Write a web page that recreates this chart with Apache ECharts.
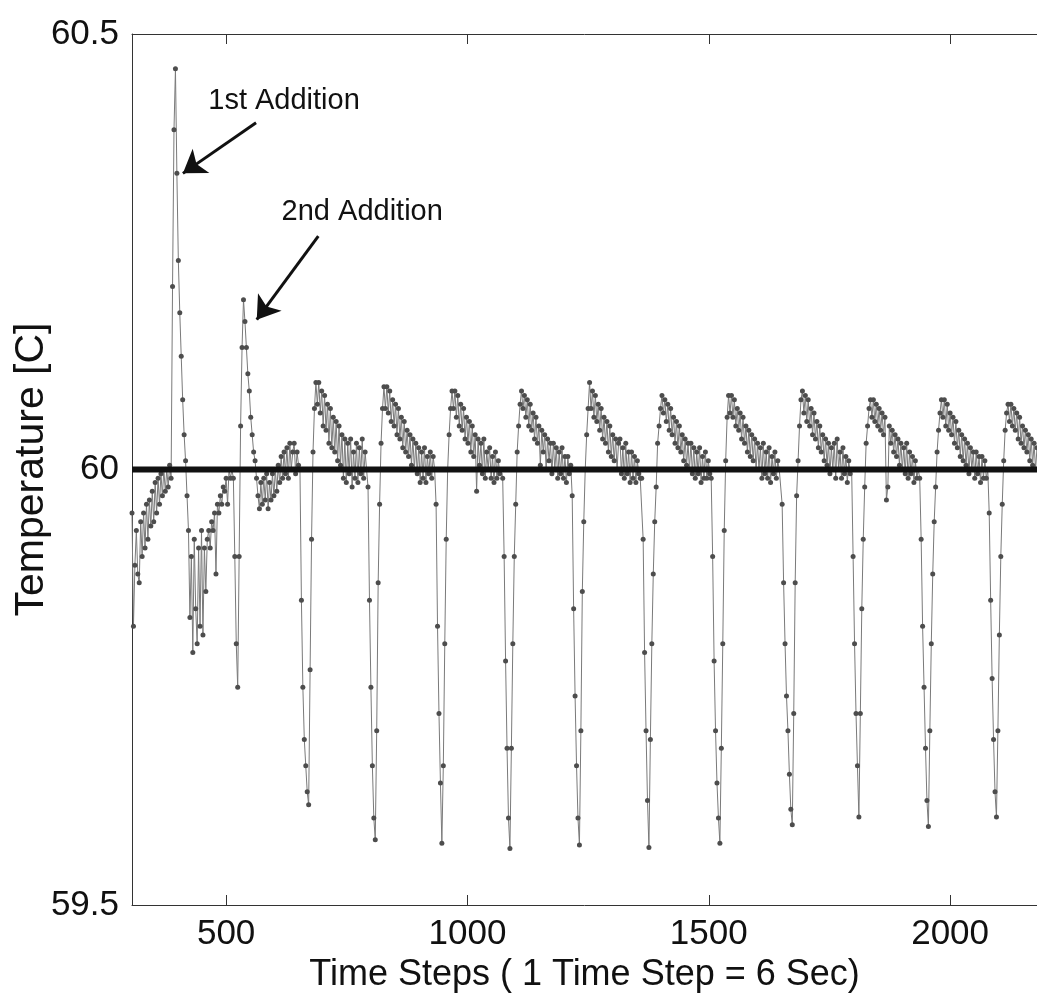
<!DOCTYPE html>
<html>
<head>
<meta charset="utf-8">
<script src="https://cdn.jsdelivr.net/npm/echarts@6/dist/echarts.min.js"></script>
<style>
html,body{margin:0;padding:0;background:#fff;}
#chart{width:1037px;height:1005px;}
</style>
</head>
<body>
<div id="chart"></div>
<script>
// ---- data ----
const STEP = 3; // digitised every 3 time steps
const xTicks = [500, 1000, 1500, 2000];
const yTicks = [59.5, 60, 60.5];
const setpoint = 60;
const segStarts = [305, 653, 794, 935, 1073, 1217, 1361, 1505, 1649, 1796, 1937, 2081];

const seg0 = [
 59.95, 59.82, 59.89, 59.93, 59.88, 59.87, 59.94, 59.90, 59.95, 59.91,
 59.96, 59.92, 59.965, 59.935, 59.975, 59.94, 59.985, 59.95, 59.99, 59.96,
 59.995, 59.97, 60.0, 59.975, 60.0, 59.98, 60.005, 59.99, 60.21, 60.39,
 60.46, 60.34, 60.24, 60.18, 60.13, 60.08, 60.04, 60.01, 59.97, 59.93,
 59.83, 59.90, 59.79, 59.92, 59.84, 59.80, 59.91, 59.82, 59.93, 59.81,
 59.91, 59.86, 59.92, 59.93, 59.91, 59.94, 59.93, 59.95, 59.88, 59.96,
 59.95, 59.97, 59.96, 59.98, 59.975, 59.99, 59.96, 60.0, 59.99, 60.0,
 59.99, 59.90, 59.80, 59.75, 59.90, 60.05, 60.14, 60.195, 60.17, 60.14,
 60.11, 60.09, 60.06, 60.04, 60.02, 60.01, 59.99, 59.97, 59.955, 59.985,
 59.96, 59.99, 59.965, 59.995, 59.955, 59.985, 59.965, 59.995, 59.97, 60.0,
 59.975, 60.005, 59.985, 60.015, 59.99, 60.02, 59.995, 60.025, 59.99, 60.03,
 60.0, 60.02, 60.03, 59.995, 60.02, 60.005
];
const cycle1 = [
 60.0, 59.85, 59.75, 59.69, 59.66, 59.63, 59.615, 59.77, 59.92, 60.02,
 60.07, 60.10,
 60.075, 60.10, 60.065, 60.09, 60.05, 60.085, 60.045, 60.075, 60.03, 60.07,
 60.025, 60.06, 60.02, 60.055, 60.01, 60.05, 60.005, 60.04, 59.99, 60.035,
 59.985, 60.03, 59.995, 60.035, 59.98, 60.02, 59.99, 60.03, 59.985, 60.025,
 59.995, 60.035, 59.99, 60.02, 60.0
];
const cycle2 = [
 59.98, 59.85, 59.75, 59.66, 59.60, 59.575, 59.70, 59.87, 59.96, 60.03,
 60.07, 60.095,
 60.07, 60.095, 60.065, 60.09, 60.055, 60.08, 60.05, 60.075, 60.04, 60.07,
 60.035, 60.06, 60.025, 60.055, 60.02, 60.045, 60.015, 60.04, 60.005, 60.035,
 60.0, 60.03, 59.995, 60.025, 59.985, 60.02, 59.99, 60.025, 59.985, 60.015,
 59.995, 60.02, 59.99, 60.015, 60.0
];
const cycle3 = [
 59.96, 59.82, 59.72, 59.64, 59.571, 59.66, 59.80, 59.92, 60.0, 60.04,
 60.07, 60.09,
 60.07, 60.09, 60.06, 60.085, 60.05, 60.075, 60.045, 60.07, 60.035, 60.06,
 60.03, 60.055, 60.02, 60.05, 60.015, 60.04, 59.975, 60.035, 60.005, 60.03,
 59.995, 60.035, 59.99, 60.02, 60.0, 60.025, 59.99, 60.015, 59.985, 60.02,
 59.99, 60.01, 59.995, 60.0
];
const cycle4 = [
 59.99, 59.90, 59.78, 59.68, 59.60, 59.565, 59.68, 59.80, 59.90, 59.96,
 60.02, 60.05, 60.075, 60.09,
 60.07, 60.085, 60.06, 60.08, 60.05, 60.075, 60.045, 60.065, 60.035, 60.06,
 60.03, 60.05, 60.005, 60.045, 60.02, 60.04, 60.0, 60.035, 60.01, 60.03,
 59.995, 60.03, 60.0, 60.025, 59.99, 60.02, 59.995, 60.025, 59.99, 60.015,
 59.985, 60.015, 59.995, 60.005
];
const cycle5 = [
 59.97, 59.84, 59.74, 59.66, 59.60, 59.569, 59.70, 59.86, 59.94, 60.0,
 60.04, 60.07, 60.10,
 60.07, 60.09, 60.06, 60.085, 60.055, 60.075, 60.045, 60.07, 60.035, 60.06,
 60.03, 60.055, 60.02, 60.05, 60.015, 60.04, 60.01, 60.035, 60.0, 60.03,
 60.035, 59.995, 60.025, 59.99, 60.03, 59.995, 60.02, 59.985, 60.02, 59.99,
 60.015, 59.985, 60.01, 59.995, 59.99
];
const cycle6 = [
 59.99, 59.92, 59.79, 59.70, 59.62, 59.566, 59.69, 59.80, 59.88, 59.94,
 59.98, 60.03, 60.05, 60.07, 60.085,
 60.065, 60.08, 60.055, 60.075, 60.045, 60.07, 60.04, 60.06, 60.03, 60.055,
 60.025, 60.05, 60.02, 60.04, 60.01, 60.035, 60.005, 60.03, 60.0, 60.03,
 59.995, 60.025, 59.99, 60.02, 59.995, 60.025, 59.985, 60.015, 59.99, 60.02,
 59.99, 60.01, 59.995
];
const cycle7 = [
 59.99, 59.90, 59.78, 59.70, 59.64, 59.60, 59.571, 59.68, 59.80, 59.93,
 60.01, 60.06, 60.085,
 60.065, 60.085, 60.06, 60.08, 60.05, 60.07, 60.045, 60.065, 60.035, 60.06,
 60.03, 60.05, 60.02, 60.045, 60.015, 60.04, 60.01, 60.035, 60.0, 60.03,
 60.0, 60.025, 59.99, 60.03, 59.995, 60.02, 59.99, 60.025, 59.985, 60.015,
 59.995, 60.02, 59.99, 60.01, 60.0
];
const cycle8 = [
 60.0, 59.96, 59.87, 59.80, 59.74, 59.70, 59.65, 59.61, 59.592, 59.72,
 59.87, 59.97, 60.01, 60.05, 60.08, 60.09,
 60.065, 60.085, 60.055, 60.08, 60.05, 60.07, 60.04, 60.065, 60.035, 60.055,
 60.025, 60.05, 60.02, 60.04, 60.01, 60.035, 60.005, 60.03, 59.995, 60.025,
 60.0, 60.03, 59.99, 60.035, 60.0, 60.02, 59.99, 60.025, 59.995, 60.015,
 59.985, 60.01, 59.995
];
const cycle9 = [
 60.0, 59.90, 59.80, 59.72, 59.66, 59.601, 59.72, 59.84, 59.92, 59.98,
 60.03, 60.05, 60.07, 60.08,
 60.06, 60.08, 60.055, 60.075, 60.05, 60.07, 60.045, 60.065, 60.04, 60.06,
 59.965, 59.98, 60.05, 60.03, 60.045, 60.02, 60.04, 60.015, 60.035, 60.005,
 60.03, 60.0, 60.025, 59.995, 60.03, 59.99, 60.02, 59.995, 60.015, 59.985,
 60.01, 59.99, 60.0
];
const cycle10 = [
 59.99, 59.92, 59.82, 59.75, 59.68, 59.62, 59.59, 59.70, 59.80, 59.88,
 59.94, 59.98, 60.02, 60.045, 60.065, 60.08,
 60.06, 60.08, 60.05, 60.075, 60.045, 60.065, 60.04, 60.06, 60.03, 60.055,
 60.025, 60.045, 60.015, 60.04, 60.01, 60.035, 60.005, 60.03, 59.995, 60.025,
 60.0, 60.02, 59.99, 60.02, 59.995, 60.015, 59.985, 60.015, 59.99, 60.01,
 59.99, 60.0
];
const cycle11 = [
 59.95, 59.85, 59.76, 59.69, 59.63, 59.601, 59.70, 59.81, 59.90, 59.96,
 60.01, 60.045, 60.065, 60.075,
 60.055, 60.075, 60.05, 60.07, 60.045, 60.065, 60.035, 60.06, 60.03, 60.05,
 60.025, 60.045, 60.02, 60.04, 60.01, 60.035, 60.005, 60.03, 60.0, 60.025
];

// annotations, in data units
const annoLabels = ['1st Addition', '2nd Addition'];
const annoLabelAt = [[620, 60.423], [782, 60.296]];
const arrowFrom = [[562, 60.398], [691, 60.268]];
const arrowTo = [[410.5, 60.34], [563.5, 60.172]];

const xMin = 305, xMax = 2180;

// ---- build ----
const segments = [seg0, cycle1, cycle2, cycle3, cycle4, cycle5, cycle6, cycle7, cycle8, cycle9, cycle10, cycle11];
const trace = [];
segments.forEach((vals, s) => {
  vals.forEach((v, i) => trace.push([segStarts[s] + STEP * i, v]));
});

const FONT = "'Liberation Sans', Arial, Helvetica, sans-serif";
const chart = echarts.init(document.getElementById('chart'), null, {renderer: 'canvas'});
const axisLine = {show: true, lineStyle: {color: '#333', width: 1}};

chart.setOption({
  animation: false,
  backgroundColor: '#ffffff',
  textStyle: {fontFamily: FONT},
  grid: {left: 132, right: 0, top: 34, bottom: 100, containLabel: false, outerBoundsMode: 'none'},
  xAxis: [{
    type: 'value', min: xMin, max: xMax, position: 'bottom',
    axisLine: axisLine,
    axisTick: {show: true, inside: true, length: 10, customValues: xTicks, lineStyle: {color: '#333'}},
    axisLabel: {customValues: xTicks, fontSize: 35, color: '#111', margin: 12, fontFamily: FONT, formatter: v => String(v)},
    splitLine: {show: false},
    name: 'Time Steps ( 1 Time Step = 6 Sec)', nameLocation: 'middle', nameGap: 52,
    nameTextStyle: {fontSize: 36, color: '#111', fontFamily: FONT}
  }, {
    type: 'value', min: xMin, max: xMax, position: 'top',
    axisLine: axisLine,
    axisTick: {show: true, inside: true, length: 10, customValues: xTicks, lineStyle: {color: '#333'}},
    axisLabel: {show: false},
    splitLine: {show: false}
  }],
  yAxis: {
    type: 'value', min: yTicks[0], max: yTicks[yTicks.length - 1], interval: 0.5,
    axisLine: axisLine,
    axisTick: {show: true, inside: true, length: 8, lineStyle: {color: '#333'}},
    axisLabel: {fontSize: 35, color: '#111', margin: 13, fontFamily: FONT, formatter: v => String(v)},
    splitLine: {show: false},
    name: 'Temperature [C]', nameLocation: 'middle', nameGap: 80, nameRotate: 90,
    nameMoveOverlap: false,
    nameTextStyle: {fontSize: 41, color: '#111', fontFamily: FONT}
  },
  series: [{
    type: 'line',
    data: trace,
    showSymbol: true, showAllSymbol: true,
    symbol: 'circle', symbolSize: 5,
    lineStyle: {color: '#7a7a7a', width: 1},
    itemStyle: {color: '#4d4d4d'},
    z: 2,
    markLine: {
      silent: true,
      symbol: ['none', 'arrow'],
      symbolSize: 22,
      lineStyle: {color: '#111', width: 3, type: 'solid'},
      label: {show: false},
      data: arrowFrom.map((f, i) => [{coord: f}, {coord: arrowTo[i]}])
    },
    markPoint: {
      silent: true,
      symbol: 'circle', symbolSize: 0,
      label: {show: true, position: 'inside', fontSize: 29, color: '#111', fontFamily: FONT},
      data: annoLabels.map((t, i) => ({coord: annoLabelAt[i], value: t, label: {formatter: t}}))
    }
  }, {
    type: 'line',
    data: [[xMin, setpoint], [xMax, setpoint]],
    showSymbol: false,
    lineStyle: {color: '#111', width: 6},
    z: 5,
    silent: true
  }]
});
</script>
</body>
</html>
